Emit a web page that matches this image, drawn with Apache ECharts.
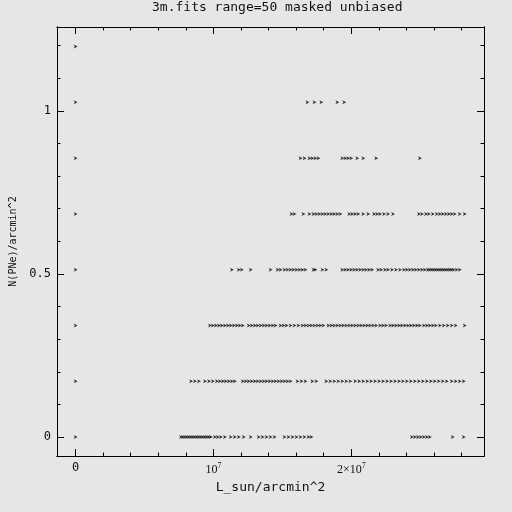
<!DOCTYPE html>
<html>
<head>
<meta charset="utf-8">
<script src="https://cdn.jsdelivr.net/npm/echarts@6/dist/echarts.min.js"></script>
<style>html,body{margin:0;padding:0;background:#e6e6e6}#c{width:512px;height:512px}</style>
</head>
<body>
<div id="c"></div>
<script>
// x values in units of 1e7 L_sun/arcmin^2, one array per N(PNe) level
const yLevels = [0, 0.171, 0.342, 0.513, 0.684, 0.855, 1.026, 1.197];
const xLevel0 = [0, 0.765,0.780,0.794,0.809,0.823,0.838,0.852,0.866,0.881,0.895,0.910,0.924,0.939,0.953,0.968,0.982,
  1.011,1.032,1.054,1.083,1.126,1.155,1.184,1.220,1.271,1.329,1.357,1.386,1.415,1.444,
  1.516,1.545,1.574,1.603,1.632,1.661,1.690,1.711,2.440,2.462,2.484,2.505,2.527,2.549,2.570,2.736,2.816];
const xLevel1 = [0, 0.838,0.866,0.895,0.939,0.968,0.996,1.025,1.047,1.069,1.090,1.112,1.134,1.155,
  1.213,1.235,1.256,1.278,1.300,1.321,1.343,1.365,1.386,1.408,1.430,1.451,1.473,1.495,1.516,1.538,1.560,
  1.610,1.639,1.668,1.718,1.747,1.819,1.848,1.877,1.906,1.935,1.964,1.993,2.029,2.058,2.087,2.116,2.144,
  2.173,2.202,2.231,2.260,2.289,2.318,2.347,2.375,2.404,2.433,2.462,2.491,2.520,2.549,2.578,2.606,2.635,
  2.664,2.693,2.729,2.758,2.787,2.816];
const xLevel2 = [0, 0.975,0.996,1.018,1.040,1.061,1.083,1.105,1.126,1.148,1.170,1.191,1.213,
  1.256,1.278,1.300,1.321,1.343,1.365,1.386,1.408,1.430,1.451,1.487,1.509,1.531,1.560,1.588,1.617,
  1.646,1.668,1.690,1.711,1.733,1.755,1.776,1.798,1.834,1.856,1.877,1.899,1.921,1.942,1.964,1.986,2.007,
  2.029,2.051,2.072,2.094,2.116,2.137,2.159,2.181,2.209,2.231,2.253,2.282,2.303,2.325,2.347,2.368,2.390,
  2.412,2.433,2.455,2.477,2.498,2.527,2.549,2.570,2.592,2.614,2.643,2.671,2.700,2.729,2.758,2.823];
const xLevel3 = [0, 1.134,1.184,1.206,1.271,1.415,1.466,1.487,1.516,1.538,1.560,1.581,1.603,1.625,1.646,1.668,
  1.726,1.740,1.791,1.819,1.935,1.957,1.978,2.000,2.022,2.043,2.065,2.087,2.108,2.130,2.152,
  2.195,2.217,2.245,2.267,2.296,2.325,2.354,2.383,2.404,2.426,2.448,2.469,2.491,2.513,2.534,
  2.556,2.570,2.585,2.599,2.614,2.628,2.643,2.657,2.671,2.686,2.700,2.715,2.729,2.744,2.765,2.787];
const xLevel4 = [0, 1.567,1.588,1.653,1.697,1.726,1.747,1.769,1.791,1.812,1.834,1.856,1.877,1.899,1.921,
  1.986,2.007,2.029,2.051,2.087,2.123,2.166,2.188,2.209,2.238,2.267,2.303,
  2.491,2.513,2.542,2.563,2.592,2.621,2.643,2.664,2.686,2.708,2.729,2.751,2.787,2.823];
const xLevel5 = [0, 1.632,1.661,1.697,1.718,1.740,1.762,1.935,1.957,1.978,2.000,2.043,2.087,2.181,2.498];
const xLevel6 = [0, 1.682,1.733,1.783,1.899,1.949];
const xLevel7 = [0];
const xLevels = [xLevel0, xLevel1, xLevel2, xLevel3, xLevel4, xLevel5, xLevel6, xLevel7];

const xMajor = [0, 1, 2];
const xMinor = [0.2,0.4,0.6,0.8,1.2,1.4,1.6,1.8,2.2,2.4,2.6,2.8];
const yMajor = [0, 0.5, 1];
const yMinor = [0.1,0.2,0.3,0.4,0.6,0.7,0.8,0.9,1.1,1.2];
const xTickLabels = {0: '{m|0}', 1: '{n|10}{s|7}', 2: '{n|2×10}{s|7}'};
const title = '3m.fits range=50 masked unbiased';
const xName = 'L_sun/arcmin^2';
const yName = 'N(PNe)/arcmin^2';

const XMIN = -0.135, XMAX = 2.963, YMIN = -0.058, YMAX = 1.257;
const mono = 'DejaVu Sans Mono';
const ink = '#000';

const data = [];
xLevels.forEach((arr, i) => arr.forEach(x => data.push([x, yLevels[i]])));

function xAx(pos, ticks, len, labels, extra) {
  return Object.assign({
    type: 'value', position: pos, min: XMIN, max: XMAX,
    axisLine: {show: true, onZero: false, lineStyle: {color: ink, width: 1}},
    axisTick: {show: true, inside: true, length: len, customValues: ticks, lineStyle: {color: ink, width: 1}},
    axisLabel: labels ? {show: true, customValues: xMajor, margin: 6, color: '#111',
      formatter: v => xTickLabels[Math.round(v)] || '',
      rich: {m: {fontFamily: mono, fontSize: 12, color: '#111'},
             n: {fontFamily: 'Liberation Serif', fontSize: 12, color: '#111'},
             s: {fontFamily: 'Liberation Serif', fontSize: 8, color: '#111', verticalAlign: 'top', padding: [0,0,8,0]}}} : {show: false},
    splitLine: {show: false}
  }, extra || {});
}
function yAx(pos, ticks, len, labels, extra) {
  return Object.assign({
    type: 'value', position: pos, min: YMIN, max: YMAX,
    axisLine: {show: true, onZero: false, lineStyle: {color: ink, width: 1}},
    axisTick: {show: true, inside: true, length: len, customValues: ticks, lineStyle: {color: ink, width: 1}},
    axisLabel: labels ? {show: true, customValues: yMajor, margin: 6, color: '#111',
      fontFamily: mono, fontSize: 12, formatter: v => String(v)} : {show: false},
    splitLine: {show: false}
  }, extra || {});
}

const chart = echarts.init(document.getElementById('c'), null, {renderer: 'canvas'});
chart.setOption({
  backgroundColor: '#e6e6e6',
  animation: false,
  grid: {left: 55, right: 28, top: 27, bottom: 56, containLabel: false},
  graphic: [{type: 'text', left: 279 - 127, top: 1,
    style: {text: title, fontFamily: mono, fontSize: 13, fill: '#111'}}],
  xAxis: [
    xAx('bottom', xMajor, 7, true, {name: xName, nameLocation: 'middle', nameGap: 22,
      nameTextStyle: {fontFamily: mono, fontSize: 13, color: '#111', verticalAlign: 'top'}}),
    xAx('bottom', xMinor, 3.5, false),
    xAx('top', xMajor, 7, false),
    xAx('top', xMinor, 3.5, false)
  ],
  yAxis: [
    yAx('left', yMajor, 7, true, {name: yName, nameLocation: 'middle', nameGap: 39, nameRotate: 90,
      nameTextStyle: {fontFamily: mono, fontSize: 10, color: '#111'}}),
    yAx('left', yMinor, 3.5, false),
    yAx('right', yMajor, 7, false),
    yAx('right', yMinor, 3.5, false)
  ],
  series: [{
    type: 'scatter', xAxisIndex: 0, yAxisIndex: 0, data: data,
    symbol: 'path://M0,0 L4,2 L0,4 L1.2,2 Z', symbolSize: [4, 4],
    itemStyle: {color: ink}, emphasis: {disabled: true}
  }]
});
</script>
</body>
</html>
